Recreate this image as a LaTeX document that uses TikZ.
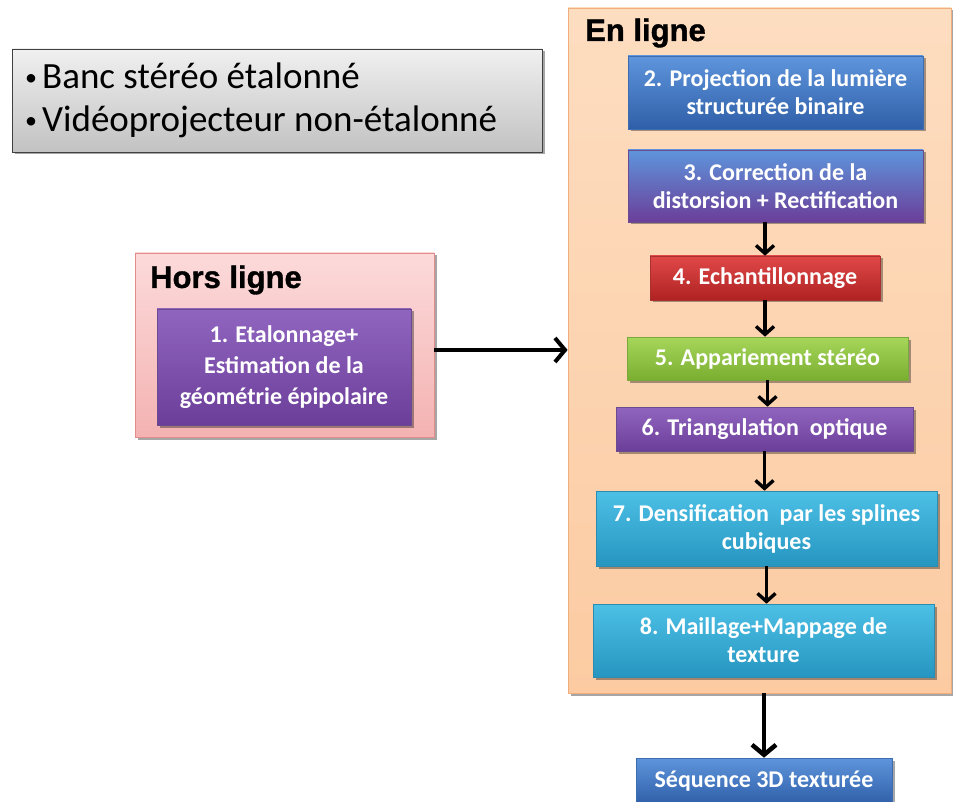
\documentclass[tikz,border=0pt]{standalone}
\usepackage{fontspec}
\setmainfont{Carlito}
\newfontfamily\titlefont[BoldFeatures={FakeBold=1.2}]{Liberation Sans}
\usetikzlibrary{shadows,arrows.meta}
\definecolor{orfill}{HTML}{FCCBA2}
\definecolor{ortop}{HTML}{FDDDC0}
\definecolor{orline}{HTML}{F2AE7A}
\definecolor{pktop}{HTML}{FCDADA}
\definecolor{pkbot}{HTML}{F4B2B2}
\definecolor{pkline}{HTML}{E38A8A}
\definecolor{bltop}{HTML}{5E95DC}
\definecolor{blbot}{HTML}{2F5FA8}
\definecolor{blline}{HTML}{3D6DB0}
\definecolor{putop}{HTML}{9065C0}
\definecolor{pubot}{HTML}{6B3E99}
\definecolor{puline}{HTML}{6A4A90}
\definecolor{rdtop}{HTML}{E04848}
\definecolor{rdbot}{HTML}{B02222}
\definecolor{rdline}{HTML}{A83030}
\definecolor{grtop}{HTML}{A6D65A}
\definecolor{grbot}{HTML}{79AE30}
\definecolor{grline}{HTML}{7AA83A}
\definecolor{cytop}{HTML}{4DC0E6}
\definecolor{cybot}{HTML}{2696C0}
\definecolor{cyline}{HTML}{2A8CB0}
\definecolor{gytop}{HTML}{F0F0F0}
\definecolor{gybot}{HTML}{C2C2C2}
\newcommand{\smallbul}{{\fontsize{24}{24}\selectfont\raisebox{3pt}{•}}\hspace{5pt}}
\begin{document}
\begin{tikzpicture}[x=1pt,y=-1pt]
\tikzset{
  shad/.style={drop shadow={shadow xshift=2.5pt,shadow yshift=-2.5pt,opacity=0.35,fill=black}},
  stepbox/.style={rectangle,inner sep=0pt,align=center,text=white,shad,line width=0.6pt,
    font=\bfseries\fontsize{24}{28}\selectfont},
  bluebox/.style={stepbox,top color=bltop,bottom color=blbot,draw=blline},
  mixbox/.style={stepbox,top color=bltop,bottom color=pubot,draw=puline},
  purplebox/.style={stepbox,top color=putop,bottom color=pubot,draw=puline},
  redbox/.style={stepbox,top color=rdtop,bottom color=rdbot,draw=rdline},
  greenbox/.style={stepbox,top color=grtop,bottom color=grbot,draw=grline},
  cyanbox/.style={stepbox,top color=cytop,bottom color=cybot,draw=cyline},
  group/.style={rectangle,inner sep=0pt,shad,line width=0.8pt},
  grouptitle/.style={font=\titlefont\bfseries\fontsize{31}{36}\selectfont,anchor=west,inner sep=0pt},
  flow/.style={-{Straight Barb[length=8pt,width=18pt]},line width=3.4pt},
  bigflow/.style={-{Straight Barb[length=10pt,width=24pt]},line width=4.5pt},
  bullet/.style={anchor=base west,inner sep=0pt,font=\fontsize{37}{43}\selectfont}
}
\useasboundingbox (0,0) rectangle (953,802);

% info box
\node[group,top color=gytop,bottom color=gybot,draw=black!75,minimum width=530pt,minimum height=103pt] (info) at (277,100.5) {};
\node[bullet] (l1) at (25,89) {\smallbul Banc stéréo étalonné};
\node[bullet] (l2) at (25,132) {\smallbul Vidéoprojecteur non-étalonné};

% en ligne
\node[group,top color=ortop,bottom color=orfill,draw=orline,minimum width=383pt,minimum height=685pt] (enligne) at (759.5,350.5) {};
\node[grouptitle] (entitle) at (585,33) {En ligne};

% hors ligne
\node[group,top color=pktop,bottom color=pkbot,draw=pkline,minimum width=299pt,minimum height=184pt] (horsligne) at (284.5,345) {};
\node[grouptitle] (horstitle) at (150,280) {Hors ligne};

\node[purplebox,minimum width=254pt,minimum height=116pt,font=\bfseries\fontsize{24}{31}\selectfont] (b1) at (284,367) {1. Etalonnage+\\Estimation de la\\géométrie épipolaire};

\node[bluebox,minimum width=295pt,minimum height=73pt] (b2) at (775.5,92.5) {2. Projection de la lumière\\structurée binaire};
\node[mixbox,minimum width=295pt,minimum height=72pt] (b3) at (775.5,186) {3. Correction de la\\distorsion + Rectification};
\node[redbox,minimum width=230pt,minimum height=44pt] (b4) at (765,278) {4. Echantillonnage};
\node[greenbox,minimum width=281pt,minimum height=43pt] (b5) at (767.5,358.5) {5. Appariement stéréo};
\node[purplebox,minimum width=297pt,minimum height=44pt] (b6) at (764.5,429) {6. Triangulation~~optique};
\node[cyanbox,minimum width=341pt,minimum height=75pt] (b7) at (766.5,528.5) {7. Densification~~par les splines\\cubiques};
\node[cyanbox,minimum width=341pt,minimum height=73pt] (b8) at (763.5,640.5) {8. Maillage+Mappage de\\texture};
\node[bluebox,minimum width=256pt,minimum height=46pt] (fin) at (764,781) {Séquence 3D texturée};

% connectors
\draw[flow] (b4.north |- b3.south) -- (b4.north);
\draw[flow] (b4.south) -- (b4.south |- b5.north);
\draw[flow] (b5.south) -- (b5.south |- b6.north);
\draw[flow] (b6.south) -- (b6.south |- b7.north);
\draw[flow] (b7.south) -- (b7.south |- b8.north);
\draw[bigflow] (enligne.south -| fin.north) -- (fin.north);
\draw[bigflow,line width=4pt] ([yshift=-5pt]horsligne.east) -- ([yshift=-5pt]horsligne.east -| enligne.west);
\end{tikzpicture}
\end{document}
